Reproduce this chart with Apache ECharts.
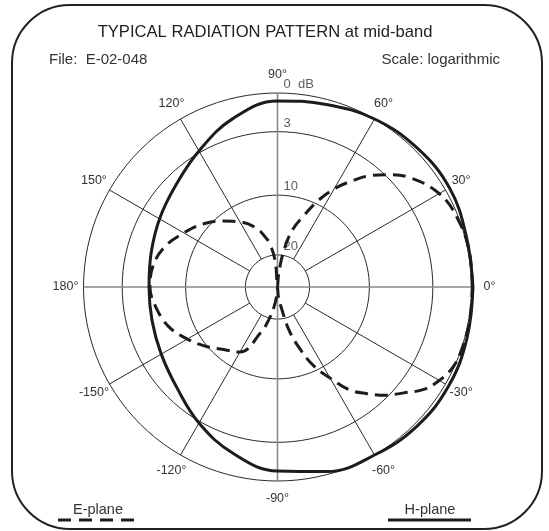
<!DOCTYPE html>
<html><head><meta charset="utf-8">
<script src="https://cdn.jsdelivr.net/npm/echarts@6/dist/echarts.min.js"></script>
<style>html,body{margin:0;padding:0;background:#fff}#c{width:549px;height:531px}</style>
</head><body><div id="c"></div>
<script>
// ---------- texts ----------
const TITLE = 'TYPICAL RADIATION PATTERN at mid-band';
const FILE_TEXT = 'File:  E-02-048';
const SCALE_TEXT = 'Scale: logarithmic';
const LEGEND_E = 'E-plane';
const LEGEND_H = 'H-plane';

// ---------- axis ticks ----------
const ANGLE_TICKS = [0, 30, 60, 90, 120, 150, 180, 210, 240, 270, 300, 330];
const ANGLE_LABELS = ['0°', '30°', '60°', '90°', '120°', '150°', '180°', '-150°', '-120°', '-90°', '-60°', '-30°'];
const RING_DB = [0, 3, 10, 20];
const RING_LABELS = ['0  dB', '3', '10', '20'];
const CENTER_DB = 27.3;   // level at the centre of the log scale
const EDGE_DB = -0.8;     // scale extends slightly beyond the 0 dB ring

// ---------- data (angle in degrees, level in dB below peak) ----------
const H_ANGLES = [0, 15, 30, 45, 60, 75, 90, 105, 120, 135, 150, 165, 180, 195, 210, 225, 240, 255, 270, 285, 300, 315, 330, 345, 360];
const H_DB     = [-0.1, -0.1, -0.3, -0.2, 0.0, 0.35, 0.55, 1.45, 2.85, 4.05, 4.8, 5.35, 5.6, 5.45, 5.0, 4.2, 2.85, 1.6, 0.7, 0.2, 0.0, -0.2, -0.25, -0.15, -0.1];

const E_ANGLES = [0, 10, 20, 30, 40, 45, 50, 55, 60, 65, 70, 75, 80, 85, 90, 95, 100, 105, 110, 120, 130, 140, 150, 160, 170, 180,
                  190, 200, 210, 220, 230, 240, 250, 255, 260, 265, 270, 275, 280, 285, 290, 295, 300, 305, 310, 315, 320, 325, 330, 335, 340, 350, 360];
const E_DB     = [-0.05, -0.07, 0.07, 0.5, 1.7, 2.7, 3.9, 5.5, 7.3, 9.6, 12.4, 14.8, 18.8, 24.2, 27.3, 21.5, 17.7, 15.9, 14.3, 12.4, 10.8, 9.2, 7.9, 6.6, 5.85, 5.7,
                  6.2, 7.0, 8.4, 9.9, 11.4, 12.4, 16.9, 19.6, 22.5, 25.3, 27.3, 24.9, 22.6, 17.5, 13.8, 10.5, 8.3, 5.9, 4.5, 3.2, 2.2, 1.1, 0.5, 0.1, -0.03, -0.07, -0.05];

// ---------- layout / style ----------
const CX = 277.5, CY = 287, R0 = 194;   // R0 = radius of the 0 dB ring
const LOG_OFFSET = 10;          // radial value = dB + offset, on an inverted log axis
const LABEL_R = 212;
const FONT = '"Liberation Sans", Arial, sans-serif';
const INK = '#1c1c1c';
const TXT = '#333';

const rv = db => db + LOG_OFFSET;
// polar radius so that the 0 dB ring lands on R0 while the axis reaches EDGE_DB
const R_EXT = R0 * Math.log(rv(CENTER_DB) / rv(EDGE_DB)) / Math.log(rv(CENTER_DB) / rv(0));

const series = [];
// rings
RING_DB.forEach(db => {
  const pts = [];
  for (let a = 0; a <= 360; a += 3) pts.push([rv(db), a]);
  series.push({type: 'line', coordinateSystem: 'polar', data: pts, symbol: 'none', silent: true, clip: false,
    lineStyle: {color: '#2a2a2a', width: 1}, z: 1});
});
// spokes
ANGLE_TICKS.forEach(a => {
  const main = a % 90 === 0;
  series.push({type: 'line', coordinateSystem: 'polar', symbol: 'none', silent: true, clip: false,
    data: [[rv(main ? CENTER_DB : 20), a], [rv(0), a]],
    lineStyle: main ? {color: '#8a8a8a', width: 1.6} : {color: '#2a2a2a', width: 1}, z: main ? 2 : 1});
});
// ring labels
series.push({type: 'scatter', coordinateSystem: 'polar', symbolSize: 0, silent: true, clip: false, z: 5,
  data: RING_DB.map((db, i) => ({value: [rv(db), 90], label: {formatter: RING_LABELS[i]}})),
  label: {show: true, position: [6, -15], color: TXT, fontSize: 13, fontFamily: FONT}});
// patterns
series.push({name: LEGEND_H, type: 'line', coordinateSystem: 'polar', clip: false, symbol: 'none', smooth: 0.4,
  data: H_ANGLES.map((a, i) => [rv(H_DB[i]), a]),
  lineStyle: {color: INK, width: 3}, z: 10});
series.push({name: LEGEND_E, type: 'line', coordinateSystem: 'polar', clip: false, symbol: 'none', smooth: 0.4,
  data: E_ANGLES.map((a, i) => [rv(E_DB[i]), a]),
  lineStyle: {color: INK, width: 3, type: [13, 7]}, z: 10});

const graphic = [];
graphic.push({type: 'rect', shape: {x: 12, y: 5, width: 530, height: 524, r: 58},
  style: {fill: 'none', stroke: '#222', lineWidth: 2}, z: 0});
graphic.push({type: 'text', style: {text: TITLE, x: 265, y: 32, align: 'center', verticalAlign: 'middle',
  fill: '#222', fontSize: 16.6, fontFamily: FONT}});
graphic.push({type: 'text', style: {text: FILE_TEXT, x: 49, y: 60, align: 'left', verticalAlign: 'middle',
  fill: TXT, fontSize: 15, fontFamily: FONT}});
graphic.push({type: 'text', style: {text: SCALE_TEXT, x: 500, y: 60, align: 'right', verticalAlign: 'middle',
  fill: TXT, fontSize: 15, fontFamily: FONT}});
ANGLE_TICKS.forEach((a, i) => {
  const t = a * Math.PI / 180;
  graphic.push({type: 'text', style: {text: ANGLE_LABELS[i], x: CX + LABEL_R * Math.cos(t), y: CY - LABEL_R * Math.sin(t),
    align: 'center', verticalAlign: 'middle', fill: TXT, fontSize: 12.5, fontFamily: FONT}});
});
// legend
graphic.push({type: 'text', style: {text: LEGEND_E, x: 98, y: 510, align: 'center', verticalAlign: 'middle', fill: TXT, fontSize: 14.5, fontFamily: FONT}});
graphic.push({type: 'line', shape: {x1: 58, y1: 520, x2: 134, y2: 520}, style: {stroke: INK, lineWidth: 3, lineDash: [13, 8]}});
graphic.push({type: 'text', style: {text: LEGEND_H, x: 430, y: 510, align: 'center', verticalAlign: 'middle', fill: TXT, fontSize: 14.5, fontFamily: FONT}});
graphic.push({type: 'line', shape: {x1: 388, y1: 520, x2: 471, y2: 520}, style: {stroke: INK, lineWidth: 3}});

const chart = echarts.init(document.getElementById('c'), null, {renderer: 'canvas'});
chart.setOption({
  animation: false,
  backgroundColor: '#fff',
  polar: {center: [CX, CY], radius: R_EXT},
  angleAxis: {type: 'value', min: 0, max: 360, interval: 30, startAngle: 0, clockwise: false,
    axisLine: {show: false}, axisTick: {show: false}, axisLabel: {show: false}, splitLine: {show: false}},
  radiusAxis: {type: 'log', inverse: true, min: rv(EDGE_DB), max: rv(CENTER_DB),
    axisLine: {show: false}, axisTick: {show: false}, axisLabel: {show: false}, splitLine: {show: false}},
  series: series,
  graphic: graphic
});
</script>
</body></html>
